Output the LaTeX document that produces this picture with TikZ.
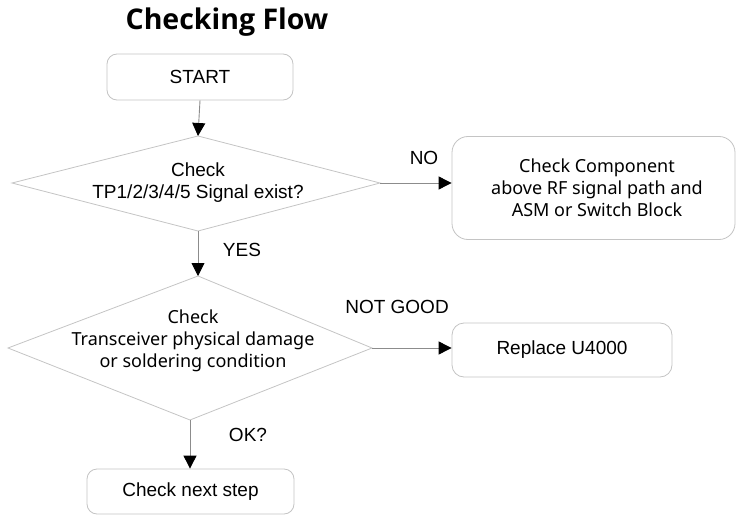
\documentclass[tikz,border=0pt]{standalone}
\usepackage{fontspec}
\setmainfont{Liberation Sans}
\newfontfamily\kfont{Noto Sans}
\newfontfamily\tfont{Open Sans}
\usetikzlibrary{arrows.meta}
\definecolor{shapegray}{HTML}{C4C4C4}
\definecolor{linegray}{HTML}{8C8C8C}
\begin{document}
\begin{tikzpicture}[x=1pt,y=-1pt,
  box/.style={draw=shapegray, line width=0.8pt, rounded corners=10pt, fill=white, inner sep=0pt},
  dshape/.style={draw=shapegray, line width=0.8pt},
  arr/.style={draw=linegray, line width=0.9pt, -{Triangle[length=13pt,width=13pt,fill=black,color=black]}},
  txt/.style={font=\fontsize{19}{22}\selectfont, align=center, inner sep=0pt},
  ktxt/.style={font=\kfont\fontsize{18}{22}\selectfont, align=center, inner sep=0pt},
  lbl/.style={font=\fontsize{19}{22}\selectfont, inner sep=0pt}]
\useasboundingbox (0,0) rectangle (736,516);
% title
\node[font=\tfont\bfseries\fontsize{28.5}{32}\selectfont, inner sep=0pt] (title) at (227,22) {Checking Flow};
% boxes
\node[box, minimum width=186pt, minimum height=46pt] (start) at (200,77) {};
\node[txt] (starttxt) at (start.center) {START};
\node[box, rounded corners=16pt, minimum width=283pt, minimum height=103pt] (comp) at (593.5,188) {};
\node[ktxt] (comptxt) at (597,188) {Check Component\\above RF signal path and\\ASM or Switch Block};
\node[box, rounded corners=12pt, minimum width=220pt, minimum height=54pt] (repl) at (562,350) {};
\node[txt] (repltxt) at (repl.center) {Replace U4000};
\node[box, minimum width=207pt, minimum height=45pt] (next) at (190.5,491.5) {};
\node[txt] (nexttxt) at (next.center) {Check next step};
% decision 1
\coordinate (d1t) at (198,136);
\coordinate (d1r) at (380,183);
\coordinate (d1b) at (198,231);
\coordinate (d1l) at (12,183);
\draw[dshape] (d1t) -- (d1r) -- (d1b) -- (d1l) -- cycle;
\node[txt] (d1txt) at (198,183) {Check\\TP1/2/3/4/5 Signal exist?};
% decision 2
\coordinate (d2t) at (198,276);
\coordinate (d2r) at (372,348);
\coordinate (d2b) at (190,420);
\coordinate (d2l) at (8,348);
\draw[dshape] (d2t) -- (d2r) -- (d2b) -- (d2l) -- cycle;
\node[ktxt] (d2txt) at (193,341) {Check\\Transceiver physical damage\\or soldering condition};
% connectors
\draw[arr] (start.south) -- (d1t);
\draw[arr] (d1r) -- (d1r -| comp.west);
\draw[arr] (d1b) -- (d2t);
\draw[arr] (d2r) -- (d2r -| repl.west);
\draw[arr] (d2b) -- (d2b |- next.north);
% labels
\node[lbl] (no) at (424,158) {NO};
\node[lbl] (yes) at (242,250) {YES};
\node[lbl] (ng) at (397,307) {NOT GOOD};
\node[lbl] (ok) at (248,435) {OK?};
\end{tikzpicture}
\end{document}
